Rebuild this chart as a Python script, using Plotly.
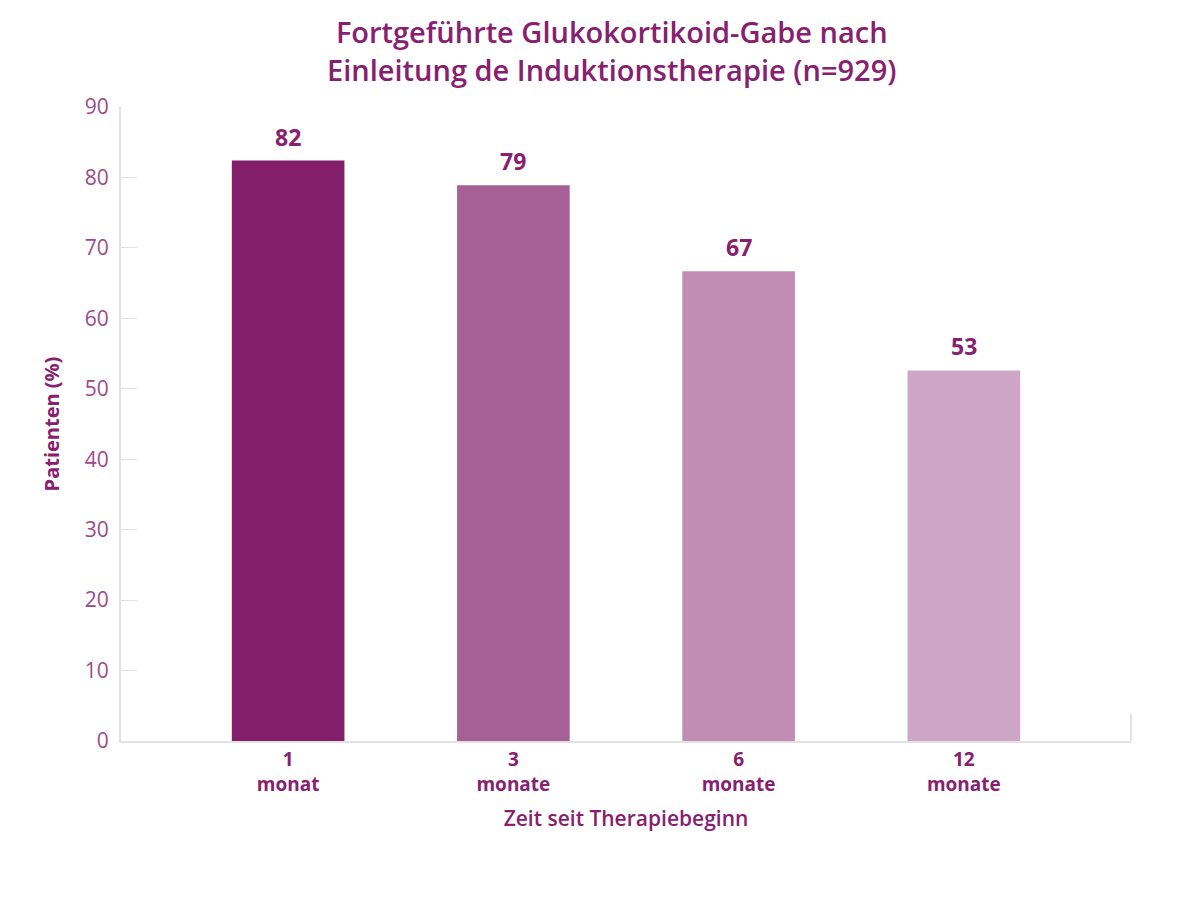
import plotly.graph_objects as go

categories = ["1<br>monat", "3<br>monate", "6<br>monate", "12<br>monate"]
values = [82.4, 78.9, 66.7, 52.6]
labels = ["82", "79", "67", "53"]
colors = ["#831f6a", "#a76095", "#c28db5", "#cfa5c5"]
y_ticks = [0, 10, 20, 30, 40, 50, 60, 70, 80, 90]

FONT = "Open Sans"
DARK = "#86206f"
TICK = "#9a4a8a"

xs = list(range(len(categories)))

fig = go.Figure(go.Bar(
    x=xs, y=values,
    marker=dict(color=colors, line=dict(width=0)),
    width=0.5,
))

for xi, v, lab in zip(xs, values, labels):
    fig.add_annotation(x=xi, y=v, text=lab, showarrow=False,
                       xanchor="center", yanchor="bottom", yshift=6,
                       font=dict(family=FONT, size=23, color=DARK, weight="bold"))

fig.update_layout(
    width=1181, height=919,
    margin=dict(l=121, r=50, t=107, b=178),
    paper_bgcolor="white", plot_bgcolor="white",
    showlegend=False,
    title=dict(
        text="Fortgeführte Glukokortikoid-Gabe nach<br>Einleitung de Induktionstherapie (n=929)",
        x=0.518, xanchor="center", y=1 - 43 / 919, yanchor="middle",
        font=dict(family=FONT, size=29, color=DARK, weight=600),
    ),
    xaxis=dict(
        range=[-0.742, 3.742],
        tickvals=xs, ticktext=categories,
        showgrid=False, zeroline=False,
        showline=True, linecolor="#e2e2e2", linewidth=2,
        ticks="", tickfont=dict(family=FONT, size=19, color=DARK, weight="bold"),
        title=dict(text="Zeit seit Therapiebeginn", standoff=16,
                   font=dict(family=FONT, size=21, color=DARK, weight=600)),
    ),
    yaxis=dict(
        range=[0, 90], tickvals=y_ticks,
        showgrid=False, zeroline=False,
        showline=True, linecolor="#e2e2e2", linewidth=2,
        ticks="inside", ticklen=16, tickcolor="#e2e2e2", tickwidth=1,
        ticklabelstandoff=6,
        tickfont=dict(family=FONT, size=21, color=TICK),
        title=dict(text="Patienten (%)", standoff=20,
                   font=dict(family=FONT, size=20, color=DARK, weight="bold")),
    ),
)

fig.add_shape(type="line", xref="x domain", x0=1, x1=1, yref="y", y0=0, y1=3.8,
              line=dict(color="#e2e2e2", width=2))

fig.write_html("out.html")
